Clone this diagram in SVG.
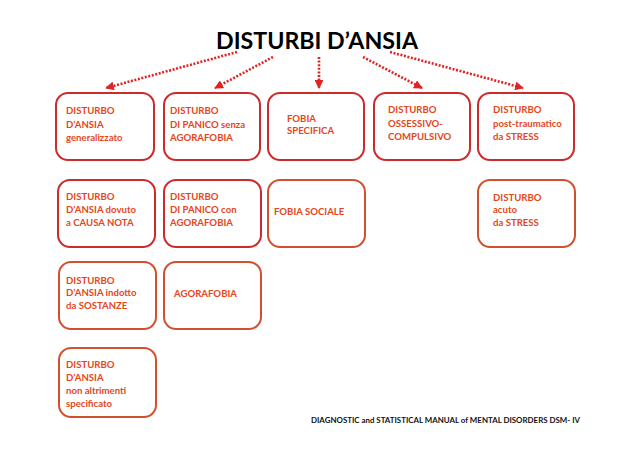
<svg xmlns="http://www.w3.org/2000/svg" width="638" height="451" viewBox="0 0 638 451">
<style>
.box{fill:#fff;stroke-width:2}
.r{stroke:#cd2a2c}
.o{stroke:#d2502e}
.t{font-family:Lato,"Liberation Sans",Arial,sans-serif;font-size:9.6px;font-weight:bold;fill:#e4471c}
.title{font-family:Lato,"Liberation Sans",Arial,sans-serif;font-size:23px;font-weight:bold;fill:#000}
.foot{font-family:Lato,"Liberation Sans",Arial,sans-serif;font-size:8px;font-weight:bold;fill:#111}
.conn{stroke:#e02424;stroke-width:2.6;stroke-dasharray:2 1.6;fill:none}
</style>
<defs>
<marker id="ah" viewBox="0 0 10 10" refX="9" refY="5" markerWidth="3.4" markerHeight="3.4" orient="auto" markerUnits="strokeWidth">
<path d="M0,0 L10,5 L0,10 z" fill="#e02424"/>
</marker>
</defs>
<rect width="638" height="451" fill="#fff"/>
<g id="title"><text class="title" x="317" y="49" text-anchor="middle" textLength="202" lengthAdjust="spacingAndGlyphs">DISTURBI D’ANSIA</text></g>
<g id="connectors">
<line class="conn" x1="237" y1="52" x2="106" y2="88" marker-end="url(#ah)"/>
<line class="conn" x1="273" y1="57" x2="215" y2="88" marker-end="url(#ah)"/>
<line class="conn" x1="319" y1="57" x2="319" y2="88" marker-end="url(#ah)"/>
<line class="conn" x1="363" y1="57" x2="422" y2="88" marker-end="url(#ah)"/>
<line class="conn" x1="390" y1="52" x2="523" y2="88" marker-end="url(#ah)"/>
</g>
<g id="n1"><rect class="box r" x="56" y="93" width="98" height="67" rx="12"/><text class="t" x="66" y="114">DISTURBO</text><text class="t" x="66" y="127.5">D’ANSIA</text><text class="t" x="66" y="141">generalizzato</text></g>
<g id="n2"><rect class="box r" x="164" y="93" width="96" height="67" rx="12"/><text class="t" x="170" y="114">DISTURBO</text><text class="t" x="170" y="127.5">DI PANICO senza</text><text class="t" x="170" y="141">AGORAFOBIA</text></g>
<g id="n3"><rect class="box r" x="268" y="93" width="96" height="67" rx="12"/><text class="t" x="287" y="121.5">FOBIA</text><text class="t" x="287" y="134">SPECIFICA</text></g>
<g id="n4"><rect class="box r" x="374" y="93" width="96" height="67" rx="12"/><text class="t" x="388" y="113">DISTURBO</text><text class="t" x="388" y="126.5">OSSESSIVO-</text><text class="t" x="388" y="140">COMPULSIVO</text></g>
<g id="n5"><rect class="box r" x="478" y="93" width="96" height="67" rx="12"/><text class="t" x="493" y="113">DISTURBO</text><text class="t" x="493" y="126.5">post-traumatico</text><text class="t" x="493" y="140">da STRESS</text></g>
<g id="n6"><rect class="box r" x="58" y="180" width="97" height="67" rx="12"/><text class="t" x="66" y="200">DISTURBO</text><text class="t" x="66" y="213">D’ANSIA dovuto</text><text class="t" x="66" y="226">a CAUSA NOTA</text></g>
<g id="n7"><rect class="box r" x="164" y="180" width="97" height="67" rx="12"/><text class="t" x="170" y="200">DISTURBO</text><text class="t" x="170" y="213">DI PANICO con</text><text class="t" x="170" y="226">AGORAFOBIA</text></g>
<g id="n8"><rect class="box o" x="268" y="180" width="97" height="67" rx="12"/><text class="t" x="274" y="215">FOBIA SOCIALE</text></g>
<g id="n9"><rect class="box o" x="478" y="180" width="97" height="67" rx="12"/><text class="t" x="493" y="200.5">DISTURBO</text><text class="t" x="493" y="213">acuto</text><text class="t" x="493" y="225.5">da STRESS</text></g>
<g id="n10"><rect class="box o" x="59" y="262" width="97" height="67" rx="12"/><text class="t" x="66" y="283.5">DISTURBO</text><text class="t" x="66" y="296">D’ANSIA indotto</text><text class="t" x="66" y="308.5">da SOSTANZE</text></g>
<g id="n11"><rect class="box o" x="164" y="262" width="97" height="67" rx="12"/><text class="t" x="174" y="297">AGORAFOBIA</text></g>
<g id="n12"><rect class="box o" x="59" y="348" width="97" height="69" rx="12"/><text class="t" x="66" y="368">DISTURBO</text><text class="t" x="66" y="381">D’ANSIA</text><text class="t" x="66" y="394">non altrimenti</text><text class="t" x="66" y="407">specificato</text></g>
<g id="footer"><text class="foot" x="311" y="423" textLength="269" lengthAdjust="spacingAndGlyphs">DIAGNOSTIC and STATISTICAL MANUAL of MENTAL DISORDERS DSM- IV</text></g>
</svg>
